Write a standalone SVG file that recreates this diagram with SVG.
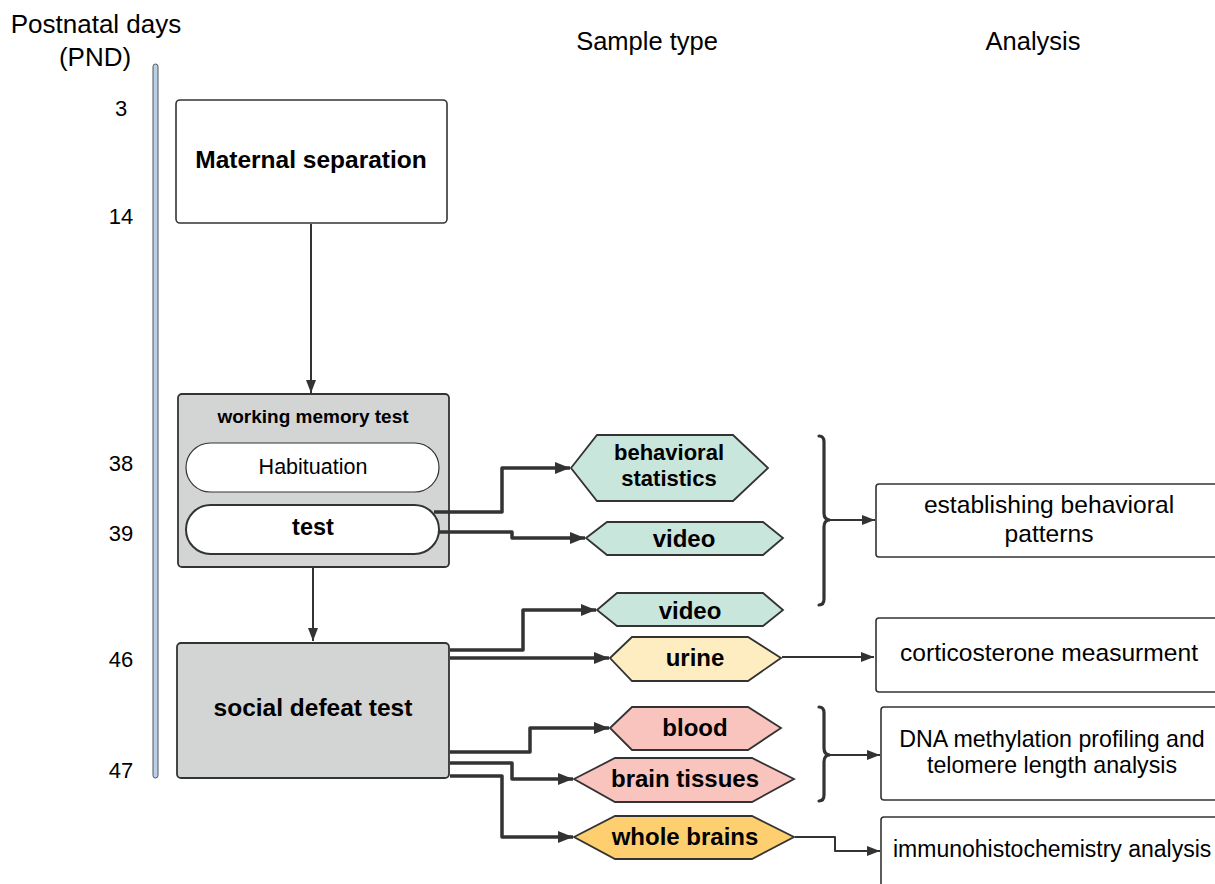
<svg xmlns="http://www.w3.org/2000/svg" width="1215" height="884" viewBox="0 0 1215 884">
<defs>
<style>
text{font-family:"Liberation Sans",Arial,sans-serif;fill:#000;text-anchor:middle}
.b{font-weight:bold}
.box{fill:#fff;stroke:#333;stroke-width:1.6}
.grey{fill:#d3d4d4;stroke:#333;stroke-width:1.8}
.pill{fill:#fff;stroke:#333;stroke-width:1.2}
.pillb{fill:#fff;stroke:#333;stroke-width:2}
.hex{stroke:#333;stroke-width:1.8}
.teal{fill:#c9e6dc}
.yel{fill:#fdedc1}
.pink{fill:#f8c4bd}
.org{fill:#fecf6f}
.thick{fill:none;stroke:#333;stroke-width:3.5;stroke-linejoin:round}
.thin{fill:none;stroke:#333;stroke-width:2;stroke-linejoin:round}
.brace{fill:none;stroke:#333;stroke-width:3.2;stroke-linecap:round}
</style>
<marker id="ah" markerUnits="userSpaceOnUse" markerWidth="16" markerHeight="12" refX="15" refY="6" orient="auto">
<path d="M0,0 L15,6 L0,12 Z" fill="#333"/>
</marker>
<marker id="as" markerUnits="userSpaceOnUse" markerWidth="14" markerHeight="10" refX="13" refY="5" orient="auto">
<path d="M0,0 L13,5 L0,10 Z" fill="#333"/>
</marker>
</defs>

<g id="headers">
<text x="96" y="33" font-size="26">Postnatal days</text>
<text x="95" y="66" font-size="26">(PND)</text>
<text x="647" y="50" font-size="25.5">Sample type</text>
<text x="1033" y="50" font-size="25.5">Analysis</text>
</g>

<g id="timeline">
<rect x="153" y="64" width="5" height="714" rx="2.5" fill="#b8d0ea" stroke="#555" stroke-width="1"/>
<text x="121" y="116" font-size="22">3</text>
<text x="121" y="224" font-size="22">14</text>
<text x="121" y="471" font-size="22">38</text>
<text x="121" y="541" font-size="22">39</text>
<text x="121" y="667" font-size="22">46</text>
<text x="121" y="778" font-size="22">47</text>
</g>

<g id="maternal-separation">
<rect class="box" x="176" y="100" width="271" height="123" rx="4"/>
<text class="b" x="311" y="168" font-size="24.5">Maternal separation</text>
</g>

<g id="working-memory-test">
<rect class="grey" x="178" y="394" width="271" height="173" rx="4"/>
<text class="b" x="313" y="423" font-size="19">working memory test</text>
</g>
<g id="habituation">
<rect class="pill" x="186" y="443" width="253" height="49" rx="24.5"/>
<text x="313" y="474" font-size="21.5">Habituation</text>
</g>
<g id="test">
<rect class="pillb" x="186" y="505" width="253" height="49" rx="24.5"/>
<text class="b" x="313" y="535" font-size="23.5">test</text>
</g>

<g id="social-defeat-test">
<rect class="grey" x="177" y="643" width="272" height="135" rx="4"/>
<text class="b" x="313" y="716" font-size="24.5">social defeat test</text>
</g>

<g id="behavioral-statistics">
<polygon class="hex teal" points="571,468 597,435 733,435 768,468 733,501 597,501"/>
<text class="b" x="669" y="460" font-size="22">behavioral</text>
<text class="b" x="669" y="486" font-size="22">statistics</text>
</g>
<g id="video-1">
<polygon class="hex teal" points="586,538 607,522 763,522 783,538 763,555 607,555"/>
<text class="b" x="684" y="547" font-size="24">video</text>
</g>
<g id="video-2">
<polygon class="hex teal" points="597,610 617,593 763,593 783,610 763,626 617,626"/>
<text class="b" x="690" y="619" font-size="24">video</text>
</g>
<g id="urine">
<polygon class="hex yel" points="610,658 632,637 748,637 781,658 748,681 632,681"/>
<text class="b" x="695" y="666" font-size="24">urine</text>
</g>
<g id="blood">
<polygon class="hex pink" points="610,728 632,707 748,707 781,728 748,750 632,750"/>
<text class="b" x="695" y="736" font-size="24">blood</text>
</g>
<g id="brain-tissues">
<polygon class="hex pink" points="574,779 615,758 752,758 794,779 752,802 615,802"/>
<text class="b" x="685" y="787" font-size="24">brain tissues</text>
</g>
<g id="whole-brains">
<polygon class="hex org" points="574,837 615,816 752,816 794,837 752,859 615,859"/>
<text class="b" x="685" y="845" font-size="24">whole brains</text>
</g>

<g id="establishing-behavioral-patterns">
<rect class="box" x="876" y="484" width="360" height="73" rx="3"/>
<text x="1049" y="513" font-size="24.6">establishing behavioral</text>
<text x="1049" y="542" font-size="24.6">patterns</text>
</g>
<g id="corticosterone-measurment">
<rect class="box" x="876" y="618" width="360" height="74" rx="3"/>
<text x="1049" y="661" font-size="24.6">corticosterone measurment</text>
</g>
<g id="dna-methylation">
<rect class="box" x="881" y="707" width="360" height="93" rx="3"/>
<text x="1052" y="747" font-size="23.2">DNA methylation profiling and</text>
<text x="1052" y="773" font-size="23.2">telomere length analysis</text>
</g>
<g id="immunohistochemistry">
<rect class="box" x="881" y="817" width="360" height="90" rx="3"/>
<text x="893" y="857" font-size="23" style="text-anchor:start">immunohistochemistry analysis</text>
</g>

<g id="connectors">
<path class="thin" d="M311,224 L311,393" marker-end="url(#as)"/>
<path class="thin" d="M313,568 L313,641" marker-end="url(#as)"/>
<path class="thick" d="M434,512 L502,512 L502,468 L570,468" marker-end="url(#ah)"/>
<path class="thick" d="M439,532 L512,532 L512,538 L585,538" marker-end="url(#ah)"/>
<path class="thick" d="M450,650 L523,650 L523,610 L596,610" marker-end="url(#ah)"/>
<path class="thick" d="M450,658 L609,658" marker-end="url(#ah)"/>
<path class="thick" d="M450,752 L530,752 L530,728 L609,728" marker-end="url(#ah)"/>
<path class="thick" d="M450,763 L512,763 L512,779 L573,779" marker-end="url(#ah)"/>
<path class="thick" d="M450,776 L502,776 L502,837 L573,837" marker-end="url(#ah)"/>
<path class="thin" d="M782,657 L874,657" marker-end="url(#as)"/>
<path class="thin" d="M795,837 L835,837 L835,851 L880,851" marker-end="url(#as)"/>
<path class="thin" d="M829,520 L875,520" marker-end="url(#as)"/>
<path class="thin" d="M829,755 L880,755" marker-end="url(#as)"/>
<path class="brace" d="M819,436 Q824,436 824,442 L824,513 Q824,520 830,520 Q824,520 824,527 L824,599 Q824,605 819,605"/>
<path class="brace" d="M819,707 Q824,707 824,713 L824,748 Q824,755 830,755 Q824,755 824,762 L824,795 Q824,801 819,801"/>
</g>
</svg>
